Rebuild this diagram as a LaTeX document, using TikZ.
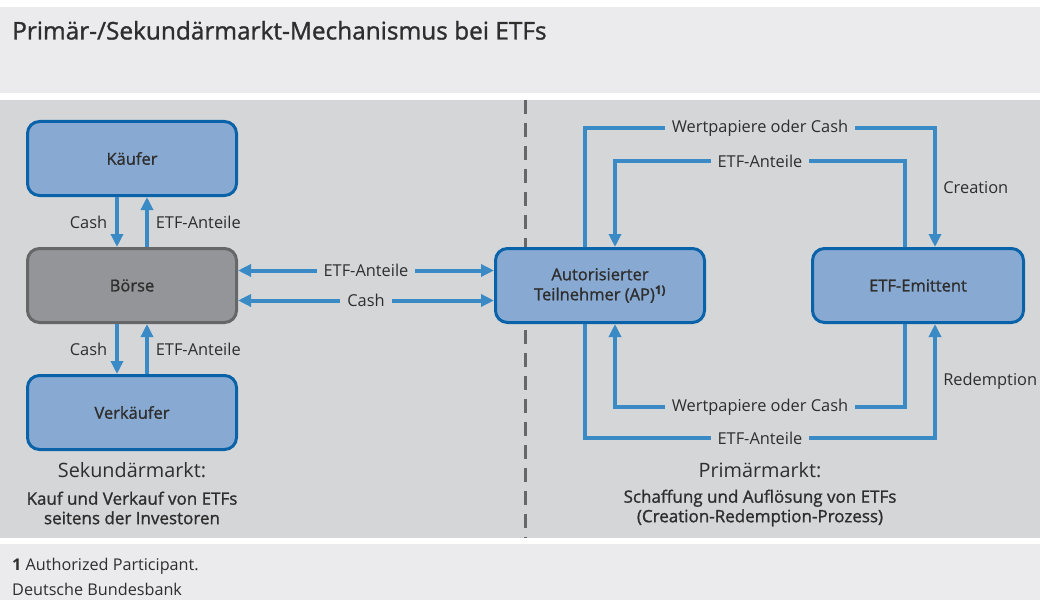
\documentclass[tikz,border=0pt]{standalone}
\usepackage{fontspec}
\setmainfont{Open Sans}
\newfontfamily\mediumfont[FakeBold=1.2]{Open Sans}
\usetikzlibrary{arrows.meta, positioning}

\definecolor{bgmain}{HTML}{D5D6D8}
\definecolor{bgtitle}{HTML}{EBEBED}
\definecolor{boxfill}{HTML}{88AAD2}
\definecolor{boxline}{HTML}{0A62A8}
\definecolor{grayfill}{HTML}{939598}
\definecolor{grayline}{HTML}{666768}
\definecolor{arrowblue}{HTML}{3A8BC5}
\definecolor{textgray}{HTML}{2E2E2E}

\begin{document}
\begin{tikzpicture}[
        x=1pt, y=-1pt,
        node distance=50pt and 1cm,
        % Boxen
        bluebox/.style={
                rectangle,
                rounded corners=12pt,
                draw=boxline,
                line width=3pt,
                fill=boxfill,
                minimum width=209pt,
                minimum height=74pt,
                align=center,
                font=\mediumfont\fontsize{16.5}{20}\selectfont,
                text=textgray
            },
        graybox/.style={
                bluebox,
                draw=grayline,
                fill=grayfill
            },
        % Pfeile
        arrow/.style={
                -{Triangle[length=13pt,width=12pt]},
                line width=4pt,
                color=arrowblue
            },
        dblarrow/.style={
                arrow,
                {Triangle[length=13pt,width=12pt]}-{Triangle[length=13pt,width=12pt]}
            },
        % Beschriftungen
        lbl/.style={
                font=\fontsize{16.4}{19}\selectfont,
                text=textgray
            },
        gaplbl/.style={
                lbl,
                fill=bgmain,
                inner xsep=7pt,
                inner ysep=1pt
            }
    ]

    % HINTERGRUND
    \useasboundingbox (0,0) rectangle (1040,604);
    \fill[white] (0,0) rectangle (1040,604);
    \fill[bgtitle] (0,7) rectangle (1040,93);
    \fill[bgmain] (0,100) rectangle (1040,538);
    \fill[bgtitle] (0,544) rectangle (1040,600);

    % TITEL
    \node[anchor=base west, inner sep=0pt, font=\mediumfont\fontsize{24.4}{28}\selectfont, text=textgray] (titel) at (12,39.5) {Primär-/Sekundärmarkt-Mechanismus bei ETFs};

    % TRENNLINIE
    \draw[grayline, line width=3pt, dash pattern=on 14pt off 9pt] (525,100) -- (525,538);

    % SEKUNDÄRMARKT (links)
    \node[bluebox] (kaeufer) at (132,158.5) {Käufer};
    \node[graybox, below=of kaeufer] (boerse) {Börse};
    \node[bluebox, below=of boerse] (verkaeufer) {Verkäufer};

    % PRIMÄRMARKT (rechts)
    \node[bluebox, right=256pt of boerse] (ap) {Autorisierter\\Teilnehmer (AP)\textsuperscript{\textbf{1)}}};
    \node[bluebox, minimum width=211pt, right=105pt of ap] (emittent) {ETF-Emittent};

    % Hilfspunkte fuer die Kreislaeufe
    \coordinate (wpl) at (585,128);
    \coordinate (wpr) at (935,128);
    \coordinate (eal) at (615,161);
    \coordinate (ear) at (905,161);
    \coordinate (wbl) at (615,407);
    \coordinate (wbr) at (905,407);
    \coordinate (ebl) at (585,438);
    \coordinate (ebr) at (935,438);

    % PFEILE links
    \draw[arrow] ([xshift=-15pt]kaeufer.south) -- node[lbl, left=4.5pt] {Cash} ([xshift=-15pt]boerse.north);
    \draw[arrow] ([xshift=15pt]boerse.north) -- node[lbl, right=3.5pt] {ETF-Anteile} ([xshift=15pt]kaeufer.south);
    \draw[arrow] ([xshift=-15pt]boerse.south) -- node[lbl, left=4.5pt] {Cash} ([xshift=-15pt]verkaeufer.north);
    \draw[arrow] ([xshift=15pt]verkaeufer.north) -- node[lbl, right=3.5pt] {ETF-Anteile} ([xshift=15pt]boerse.south);

    % Börse <-> AP
    \draw[dblarrow] ([yshift=15pt]boerse.east) -- node[gaplbl] {ETF-Anteile} ([yshift=15pt]ap.west);
    \draw[dblarrow] ([yshift=-15pt]boerse.east) -- node[gaplbl] {Cash} ([yshift=-15pt]ap.west);

    % Creation
    \draw[arrow] (ap.north -| wpl) -- (wpl) -- node[gaplbl] {Wertpapiere oder Cash} (wpr) -- node[lbl, right=3pt] {Creation} (wpr |- emittent.north);
    \draw[arrow] (emittent.north -| ear) -- (ear) -- node[gaplbl] {ETF-Anteile} (eal) -- (eal |- ap.north);

    % Redemption
    \draw[arrow] (emittent.south -| wbr) -- (wbr) -- node[gaplbl] {Wertpapiere oder Cash} (wbl) -- (wbl |- ap.south);
    \draw[arrow] (ap.south -| ebl) -- (ebl) -- node[gaplbl] {ETF-Anteile} (ebr) -- node[lbl, right=3pt] {Redemption} (ebr |- emittent.south);

    % UNTERSCHRIFTEN
    \node[lbl, anchor=base, font=\fontsize{19.8}{22}\selectfont] (sekundaer) at (132,477) {Sekundärmarkt:};
    \node[lbl, font=\mediumfont\fontsize{17}{19.5}\selectfont, align=center] (sekundaertext) at (132,508) {Kauf und Verkauf von ETFs\\seitens der Investoren};
    \node[lbl, anchor=base, font=\fontsize{19.8}{22}\selectfont] (primaer) at (760,477) {Primärmarkt:};
    \node[lbl, font=\mediumfont\fontsize{17}{19.5}\selectfont, align=center] (primaertext) at (760,508) {Schaffung und Auflösung von ETFs\\(Creation-Redemption-Prozess)};

    % FUSSNOTE
    \node[lbl, anchor=base west, inner sep=0pt, font=\fontsize{16.2}{19}\selectfont] (fussnote) at (12,570) {\textbf{1} Authorized Participant.};
    \node[lbl, anchor=base west, inner sep=0pt, font=\fontsize{16.2}{19}\selectfont] (quelle) at (12,595) {Deutsche Bundesbank};

\end{tikzpicture}
\end{document}
